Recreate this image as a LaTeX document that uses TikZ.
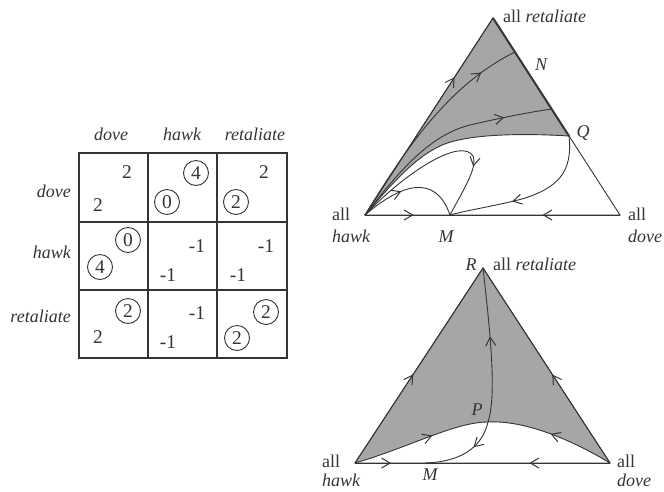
\documentclass[tikz,border=0pt]{standalone}
\usepackage{fontspec}
\setmainfont{Liberation Serif}
\usetikzlibrary{arrows.meta,decorations.markings}
\definecolor{ink}{HTML}{353535}
\definecolor{greyfill}{HTML}{A6A6A6}
\tikzset{
  ln/.style={draw=ink,line width=0.9pt},
  heavy/.style={draw=ink,line width=2pt},
  arr/.style={postaction={decorate,decoration={markings,mark=at position #1 with {\draw[ink,line width=1pt,line join=miter] (-8.5pt,5pt) -- (0pt,0pt) -- (-8.5pt,-5pt);}}}},
  lbl/.style={inner sep=0pt,text=ink,font=\fontsize{18}{20}\selectfont},
  ilbl/.style={inner sep=0pt,text=ink,font=\fontsize{18}{20}\selectfont\itshape},
  num/.style={inner sep=0pt,text=ink,font=\fontsize{19.5}{21}\selectfont},
  cnum/.style={num,circle,draw=ink,line width=0.9pt,minimum size=25pt},
  gridln/.style={draw=ink,line width=1.8pt},
}
\begin{document}
\begin{tikzpicture}[x=1pt,y=-1pt]
\useasboundingbox[fill=white] (0,0) rectangle (664,491);

% ---------- payoff table ----------
\draw[gridln] (79,153) rectangle (287,358);
\draw[gridln] (148,153) -- (148,358);
\draw[gridln] (217,153) -- (217,358);
\draw[gridln] (79,222) -- (287,222);
\draw[gridln] (79,290) -- (287,290);

\node[ilbl,anchor=base] (ch1) at (111,140) {dove};
\node[ilbl,anchor=base] (ch2) at (182,140) {hawk};
\node[ilbl,anchor=base] (ch3) at (255,140) {retaliate};
\node[ilbl,anchor=base east] (rh1) at (71,197) {dove};
\node[ilbl,anchor=base east] (rh2) at (71,258) {hawk};
\node[ilbl,anchor=base east] (rh3) at (71,322) {retaliate};

\node[num]  (a11) at (127,172) {2};
\node[num]  (b11) at (98,205) {2};
\node[cnum] (a12) at (196,173) {4};
\node[cnum] (b12) at (167,202) {0};
\node[num]  (a13) at (264,172) {2};
\node[cnum] (b13) at (236,202) {2};

\node[cnum] (a21) at (128,240) {0};
\node[cnum] (b21) at (100,267) {4};
\node[num]  (a22) at (197,246) {-1};
\node[num]  (b22) at (168,275) {-1};
\node[num]  (a23) at (266,246) {-1};
\node[num]  (b23) at (238,275) {-1};

\node[cnum] (a31) at (128,311) {2};
\node[num]  (b31) at (98,337) {2};
\node[num]  (a32) at (197,313) {-1};
\node[num]  (b32) at (168,342) {-1};
\node[cnum] (a33) at (266,312) {2};
\node[cnum] (b33) at (237,338) {2};

% ---------- upper simplex ----------
\coordinate (H1) at (365,215);
\coordinate (D1) at (620,215);
\coordinate (R1) at (493,18);
\coordinate (M1) at (450,215);
\coordinate (Q1) at (569,136);
\coordinate (N1) at (515,52);
\coordinate (E2) at (552,109);

\fill[greyfill] (H1) -- (R1) -- (Q1) .. controls (520,133) and (465,134) .. (440,146)
  .. controls (415,158) and (395,180) .. (H1) -- cycle;
\draw[ln] (Q1) .. controls (520,133) and (465,134) .. (440,146)
  .. controls (415,158) and (395,180) .. (H1);
\draw[ln] (H1) -- (R1) -- (D1) -- cycle;
\draw[heavy] (R1) -- (Q1);
\draw[ln,arr=0.695] (H1) -- (R1);
\draw[ln,arr=0.56] (H1) -- (M1);
\draw[ln,arr=0.45] (D1) -- (M1);

\draw[ln,arr=0.82] (H1) .. controls (405,150) and (448,85) .. (N1);
\draw[ln,arr=0.78] (H1) .. controls (400,170) and (430,135) .. (470,125)
  .. controls (500,118) and (530,112) .. (E2);
\draw[ln,arr=0.72] (H1) .. controls (410,168) and (462,138) .. (473,156)
  .. controls (478,168) and (462,192) .. (M1);
\draw[ln,arr=0.4] (H1) .. controls (400,185) and (435,172) .. (M1);
\draw[ln,arr=0.6] (Q1) .. controls (573,172) and (558,188) .. (522,199)
  .. controls (495,206) and (468,210) .. (M1);

\node[lbl,anchor=base west] (lall1) at (332,220) {all};
\node[ilbl,anchor=base west] (lhawk1) at (332,242) {hawk};
\node[lbl,anchor=base west] (rall1) at (628,220) {all};
\node[ilbl,anchor=base west] (rdove1) at (628,242) {dove};
\node[ilbl,anchor=base] (mlab1) at (446,242) {M};
\node[lbl,anchor=base west] (tall1) at (503,22) {all \textit{retaliate}};
\node[ilbl,anchor=base] (nlab) at (541,70) {N};
\node[ilbl,anchor=base] (qlab) at (583,137) {Q};

% ---------- lower simplex ----------
\coordinate (H2) at (355,463);
\coordinate (D2) at (610,463);
\coordinate (R2) at (483,268);
\coordinate (M2) at (425,463);
\coordinate (P2) at (488,422);

\fill[greyfill] (H2) -- (R2) -- (D2) .. controls (572,440) and (525,420) .. (P2)
  .. controls (455,422) and (410,447) .. (H2) -- cycle;
\draw[ln] (H2) -- (R2) -- (D2) -- cycle;
\draw[ln,arr=0.58] (H2) .. controls (410,447) and (455,422) .. (P2);
\draw[ln,arr=0.5] (D2) .. controls (572,440) and (525,420) .. (P2);
\draw[ln,arr=0.45] (H2) -- (R2);
\draw[ln,arr=0.45] (D2) -- (R2);
\draw[ln,arr=0.5] (H2) -- (M2);
\draw[ln,arr=0.43] (D2) -- (M2);
\draw[ln,arr=0.55] (P2) .. controls (497,395) and (490,330) .. (R2);
\draw[ln,arr=0.35] (P2) .. controls (482,448) and (460,462) .. (M2);

\node[lbl,anchor=base west] (lall2) at (322,467) {all};
\node[ilbl,anchor=base west] (lhawk2) at (322,486) {hawk};
\node[lbl,anchor=base west] (rall2) at (617,467) {all};
\node[ilbl,anchor=base west] (rdove2) at (617,486) {dove};
\node[ilbl,anchor=base] (mlab2) at (430,480) {M};
\node[ilbl,anchor=base] (rlab) at (471,270) {R};
\node[lbl,anchor=base west] (tall2) at (493,270) {all \textit{retaliate}};
\node[ilbl,anchor=base] (plab) at (477,415) {P};
\end{tikzpicture}
\end{document}
